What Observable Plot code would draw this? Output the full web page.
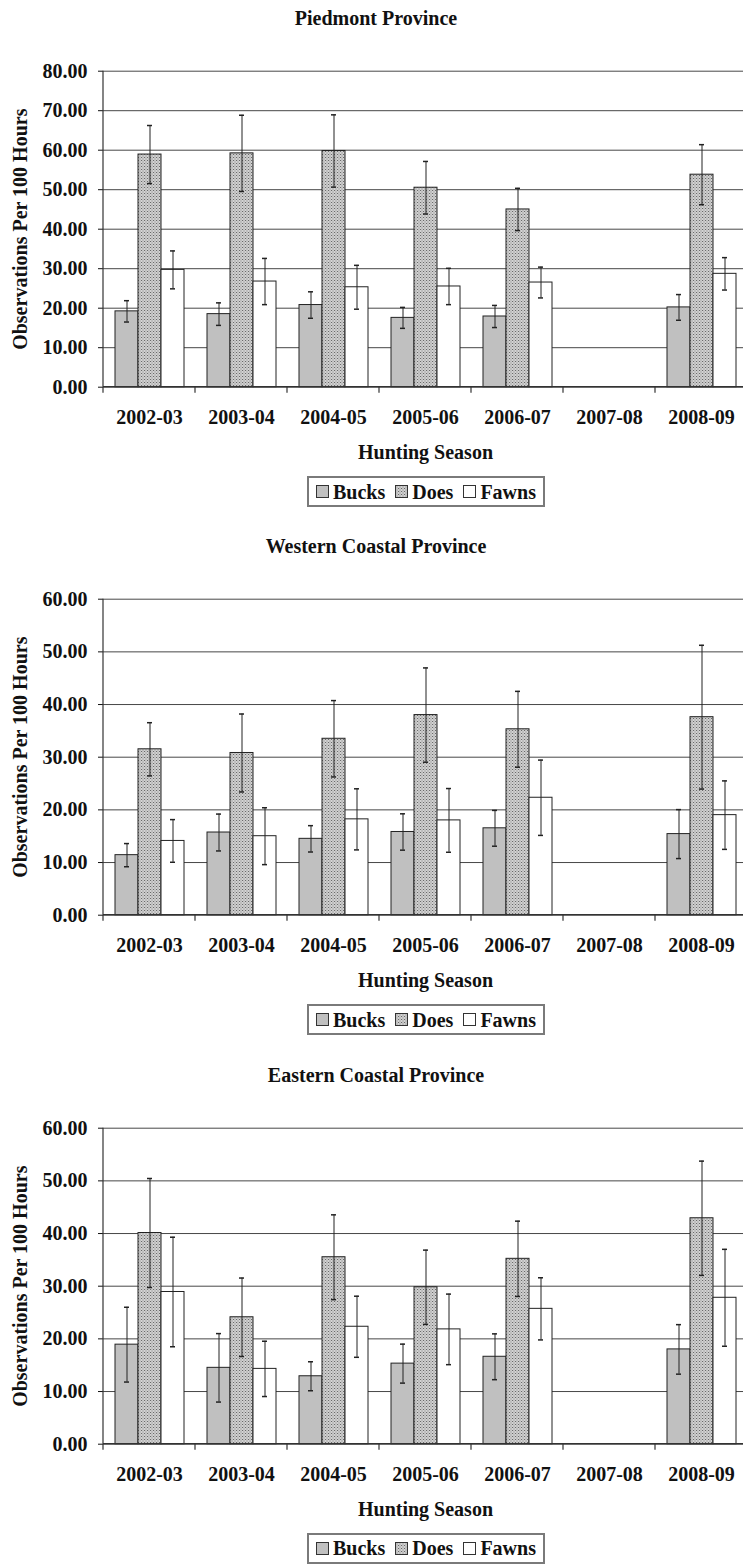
<!DOCTYPE html>
<html>
<head>
<meta charset="utf-8">
<script src="https://cdn.jsdelivr.net/npm/d3@7"></script>
<script src="https://cdn.jsdelivr.net/npm/@observablehq/plot@0.6"></script>
<style>
  html, body { margin: 0; padding: 0; background: #fff; }
  #root { position: relative; width: 743px; height: 1564px; overflow: hidden;
          font-family: "Liberation Serif", "Times New Roman", serif; font-weight: bold; color: #111; }
  .panel { position: absolute; left: 0; width: 760px; height: 528px; }
  .title { position: absolute; left: 0; width: 752px; top: 7px; text-align: center;
           font-size: 20px; line-height: 22px; }
  .chart { position: absolute; left: 0; top: 40px; }
  .legend { position: absolute; left: 307px; top: 476px; width: 234px; height: 27px;
            border: 2px solid #7a7a7a; display: flex; align-items: center; justify-content: center;
            font-size: 20px; line-height: 20px; gap: 0; }
  .legend .item { display: flex; align-items: center; margin: 0 5px; }
  .legend svg { margin-right: 4px; }
</style>
</head>
<body>
<svg width="0" height="0" style="position:absolute">
  <defs>
    <pattern id="hatch" patternUnits="userSpaceOnUse" width="3" height="3">
      <rect width="3" height="3" fill="#d4d4d4"></rect>
      <rect x="0" y="0" width="1" height="1" fill="#6a6a6a"></rect>
      <rect x="1.5" y="1.5" width="1" height="1" fill="#7a7a7a"></rect>
      <rect x="1.5" y="0" width="0.8" height="0.8" fill="#a8a8a8"></rect>
    </pattern>
  </defs>
</svg>
<div id="root"></div>
<script>
// ---------- data ----------
const seasons = ["2002-03", "2003-04", "2004-05", "2005-06", "2006-07", "2007-08", "2008-09"];
const sexes = ["Bucks", "Does", "Fawns"];
const panelTitles = ["Piedmont Province", "Western Coastal Province", "Eastern Coastal Province"];
const xTitle = "Hunting Season";
const yTitle = "Observations Per 100 Hours";

const piedmontTicks = [0, 10, 20, 30, 40, 50, 60, 70, 80];
const westernTicks = [0, 10, 20, 30, 40, 50, 60];
const easternTicks = [0, 10, 20, 30, 40, 50, 60];

// mean values and error-bar half widths (null = no survey)
const piedmontBucks    = [19.2, 18.5, 20.8, 17.55, 17.9, null, 20.2];
const piedmontBucksErr = [2.7, 2.85, 3.35, 2.65, 2.8, null, 3.25];
const piedmontDoes     = [58.9, 59.2, 59.8, 50.5, 45.0, null, 53.8];
const piedmontDoesErr  = [7.35, 9.65, 9.15, 6.65, 5.35, null, 7.6];
const piedmontFawns    = [29.7, 26.75, 25.3, 25.5, 26.5, null, 28.7];
const piedmontFawnsErr = [4.8, 5.85, 5.55, 4.6, 3.9, null, 4.1];

const westernBucks    = [11.4, 15.7, 14.5, 15.8, 16.5, null, 15.4];
const westernBucksErr = [2.2, 3.5, 2.5, 3.45, 3.4, null, 4.65];
const westernDoes     = [31.5, 30.8, 33.5, 38.0, 35.3, null, 37.6];
const westernDoesErr  = [5.05, 7.4, 7.25, 8.95, 7.2, null, 13.65];
const westernFawns    = [14.1, 15.0, 18.2, 18.0, 22.3, null, 19.0];
const westernFawnsErr = [4.05, 5.4, 5.8, 6.05, 7.15, null, 6.5];

const easternBucks    = [18.9, 14.5, 12.9, 15.3, 16.6, null, 18.0];
const easternBucksErr = [7.1, 6.5, 2.75, 3.7, 4.35, null, 4.7];
const easternDoes     = [40.1, 24.1, 35.5, 29.8, 35.2, null, 42.9];
const easternDoesErr  = [10.35, 7.45, 8.05, 7.05, 7.15, null, 10.85];
const easternFawns    = [28.9, 14.3, 22.3, 21.8, 25.7, null, 27.8];
const easternFawnsErr = [10.4, 5.25, 5.8, 6.7, 5.9, null, 9.2];

const panels = [
  {title: panelTitles[0], ticks: piedmontTicks,
   series: [[piedmontBucks, piedmontBucksErr], [piedmontDoes, piedmontDoesErr], [piedmontFawns, piedmontFawnsErr]]},
  {title: panelTitles[1], ticks: westernTicks,
   series: [[westernBucks, westernBucksErr], [westernDoes, westernDoesErr], [westernFawns, westernFawnsErr]]},
  {title: panelTitles[2], ticks: easternTicks,
   series: [[easternBucks, easternBucksErr], [easternDoes, easternDoesErr], [easternFawns, easternFawnsErr]]}
];

const fills = ["#c0c0c0", "url(#hatch)", "#ffffff"];
const panelStep = 528.3;

const root = document.getElementById("root");

panels.forEach((p, pi) => {
  const rows = [];
  seasons.forEach((s, i) => {
    sexes.forEach((sex, j) => {
      const v = p.series[j][0][i], e = p.series[j][1][i];
      rows.push({season: s, sex,
        value: v == null ? NaN : v,
        lo: v == null ? NaN : v - e,
        hi: v == null ? NaN : v + e});
    });
  });

  const panel = document.createElement("div");
  panel.className = "panel";
  panel.style.top = (pi * panelStep) + "px";
  root.appendChild(panel);

  const title = document.createElement("div");
  title.className = "title";
  title.textContent = p.title;
  panel.appendChild(title);

  const yMax = d3.max(p.ticks);
  const chart = Plot.plot({
    width: 760,
    height: 425,
    marginLeft: 100,
    marginRight: 10,
    marginTop: 30.7,
    marginBottom: 78.3,
    style: {fontFamily: "'Liberation Serif', 'Times New Roman', serif", fontSize: "20px", fontWeight: "bold", background: "white", color: "#111", overflow: "visible"},
    facet: {data: rows, x: "season"},
    fx: {domain: seasons, padding: 0, axis: "bottom", tickSize: 0, tickPadding: 22.7,
         label: xTitle, labelAnchor: "center", labelOffset: 72},
    x: {domain: sexes, paddingInner: 0, paddingOuter: 0.5, axis: null},
    y: {domain: [0, yMax], ticks: p.ticks, tickFormat: d => d.toFixed(2), tickSize: 5, tickPadding: 11,
        label: yTitle, labelAnchor: "center", labelOffset: 91, labelArrow: false},
    color: {domain: sexes, range: fills},
    marks: [
      Plot.ruleY(p.ticks, {stroke: "#474747", strokeWidth: 1}),
      Plot.barY(rows, {x: "sex", y: "value", fill: "sex", stroke: "#222", strokeWidth: 1}),
      Plot.ruleX(rows, {x: "sex", y1: "lo", y2: "hi", stroke: "#222", strokeWidth: 1}),
      Plot.tickY(rows, {x: "sex", y: "lo", stroke: "#222", strokeWidth: 1.5, insetLeft: 9, insetRight: 9}),
      Plot.tickY(rows, {x: "sex", y: "hi", stroke: "#222", strokeWidth: 1.5, insetLeft: 9, insetRight: 9})
    ]
  });
  chart.classList.add("chart");
  panel.appendChild(chart);

  // axis line and category-boundary ticks, placed with the chart's own scales
  const fxD = chart.scale("fx"), yD = chart.scale("y");
  const band = fxD.apply ? fxD.apply : d3.scaleBand(fxD.domain, fxD.range).padding(0);
  const bw = fxD.bandwidth != null ? fxD.bandwidth : d3.scaleBand(fxD.domain, fxD.range).padding(0).bandwidth();
  const ys = yD.apply ? yD.apply : d3.scaleLinear(yD.domain, yD.range);
  const svg = d3.select(chart);
  const g = svg.append("g").attr("stroke", "#333").attr("stroke-width", 1.2);
  const edges = seasons.map(s => band(s)).concat([band(seasons[seasons.length - 1]) + bw]);
  const y0 = ys(0);
  g.append("line").attr("x1", edges[0]).attr("x2", edges[0]).attr("y1", ys(yMax)).attr("y2", y0);
  g.append("line").attr("x1", edges[0]).attr("x2", edges[edges.length - 1]).attr("y1", y0).attr("y2", y0);
  edges.forEach(x => g.append("line").attr("x1", x).attr("x2", x).attr("y1", y0).attr("y2", y0 + 6));

  // legend
  const legend = document.createElement("div");
  legend.className = "legend";
  sexes.forEach((sex, j) => {
    const item = document.createElement("div");
    item.className = "item";
    item.innerHTML = `<svg width="13" height="13"><rect x="0.5" y="0.5" width="12" height="12" fill="${fills[j]}" stroke="#333" stroke-width="1"></rect></svg><span>${sex}</span>`;
    legend.appendChild(item);
  });
  panel.appendChild(legend);
});
</script>
</body>
</html>
